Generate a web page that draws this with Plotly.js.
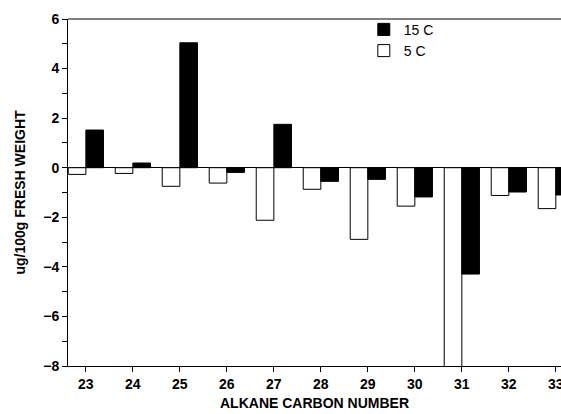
<!DOCTYPE html>
<html>
<head>
<meta charset="utf-8">
<script src="https://cdn.plot.ly/plotly-3.0.1.min.js"></script>
<style>html,body{margin:0;padding:0;background:#fff;}#chart{width:561px;height:414px;}</style>
</head>
<body>
<div id="chart"></div>
<script>
var carbonNumbers = [23, 24, 25, 26, 27, 28, 29, 30, 31, 32, 33];
var values5C  = [-0.27, -0.23, -0.75, -0.62, -2.12, -0.87, -2.89, -1.55, -8.2, -1.12, -1.65];
var values15C = [1.52, 0.19, 5.04, -0.19, 1.75, -0.55, -0.47, -1.18, -4.29, -0.98, -1.10];
var seriesNames = ["5 C", "15 C"];

var fontFam = "Liberation Sans, Arial, Helvetica, sans-serif";

var traces = [
  {
    type: "bar", name: seriesNames[0], x: carbonNumbers, y: values5C,
    marker: {color: "#ffffff", line: {color: "#000000", width: 1}},
    legendrank: 2
  },
  {
    type: "bar", name: seriesNames[1], x: carbonNumbers, y: values15C,
    marker: {color: "#000000", line: {color: "#000000", width: 1}},
    legendrank: 1
  }
];

var layout = {
  width: 561, height: 414,
  margin: {l: 68, r: 0, t: 19, b: 48},
  paper_bgcolor: "#ffffff", plot_bgcolor: "#ffffff",
  barmode: "group", bargap: 0.25, bargroupgap: 0,
  font: {family: fontFam, color: "#000000", size: 14},
  showlegend: true,
  legend: {
    x: 0.6, y: 1.015, xanchor: "left", yanchor: "top",
    bgcolor: "rgba(0,0,0,0)", font: {size: 14, family: fontFam},
    tracegroupgap: 0, itemwidth: 30
  },
  xaxis: {
    range: [22.62, 33.11],
    tickmode: "array", tickvals: carbonNumbers, ticktext: carbonNumbers.map(String),
    ticks: "outside", ticklen: 5, tickcolor: "#000", tickwidth: 1,
    ticklabeloverflow: "allow",
    showline: true, linecolor: "#000", linewidth: 1,
    showgrid: false, zeroline: false,
    tickfont: {size: 14, family: fontFam, weight: "bold"},
    title: {text: "ALKANE CARBON NUMBER", font: {size: 14, family: fontFam, weight: "bold"}, standoff: 7}
  },
  yaxis: {
    range: [-8, 6],
    dtick: 2, tick0: 0,
    ticks: "outside", ticklen: 5, tickcolor: "#000", tickwidth: 1,
    minor: {dtick: 1, ticks: "outside", ticklen: 5, tickcolor: "#000", showgrid: false},
    showline: true, linecolor: "#000", linewidth: 1,
    showgrid: false,
    zeroline: true, zerolinecolor: "#000", zerolinewidth: 1,
    tickfont: {size: 14, family: fontFam, weight: "bold"},
    title: {text: "ug/100g FRESH WEIGHT", font: {size: 14, family: fontFam, weight: "bold"}, standoff: 14}
  },
  shapes: [
    {type: "line", xref: "paper", yref: "paper", x0: 0, x1: 1, y0: 1, y1: 1,
     line: {color: "#000", width: 1}}
  ]
};

Plotly.newPlot("chart", traces, layout, {staticPlot: true, displayModeBar: false});
</script>
</body>
</html>
